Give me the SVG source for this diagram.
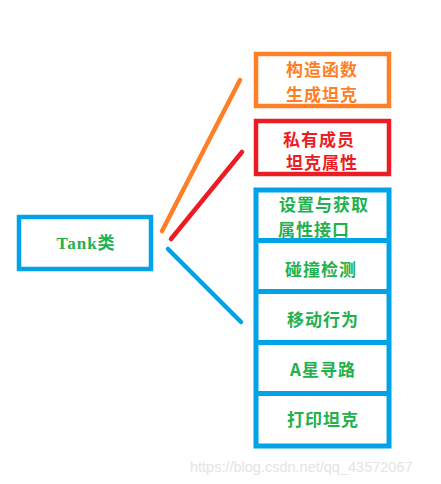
<svg xmlns="http://www.w3.org/2000/svg" width="441" height="484" viewBox="0 0 441 484">
<style>
.box{fill:#fff;stroke-width:4.5}
.b{stroke:#00a2e8}
.o{stroke:#ff7f27}
.r{stroke:#ed1c24}
.t{font-family:"Noto Sans CJK SC","Liberation Serif",sans-serif;font-size:17px;font-weight:bold;text-anchor:middle;dominant-baseline:central;letter-spacing:1px}
.g{fill:#22b14c}
.ln{stroke-width:4.5;stroke-linecap:round;fill:none}
</style>
<rect width="441" height="484" fill="#fff"/>
<g id="connectors">
<line class="ln o" x1="162" y1="231" x2="240" y2="80"/>
<line class="ln r" x1="171" y1="239" x2="242" y2="152"/>
<line class="ln b" x1="168" y1="249" x2="241" y2="322"/>
</g>
<g id="tank">
<rect class="box b" x="19" y="217" width="132" height="52"/>
<text x="86" y="243" class="g" style="font-family:'Liberation Serif','Noto Sans CJK SC',serif;font-size:17px;font-weight:bold;letter-spacing:1px;text-anchor:middle;dominant-baseline:central">Tank类</text>
</g>
<g id="ctor">
<rect class="box o" x="256" y="54" width="133" height="52"/>
<text class="t" fill="#ff7f27" x="322" y="68">构造函数</text>
<text class="t" fill="#ff7f27" x="322" y="93">生成坦克</text>
</g>
<g id="private">
<rect class="box r" x="256" y="121" width="133" height="53"/>
<text class="t" fill="#ed1c24" x="319" y="138">私有成员</text>
<text class="t" fill="#ed1c24" x="322" y="161">坦克属性</text>
</g>
<g id="methods">
<rect class="box b" x="256" y="190" width="133" height="256" style="stroke-width:5"/>
<line class="b" x1="256" y1="240.5" x2="389" y2="240.5" style="stroke-width:5"/>
<line class="b" x1="256" y1="291.5" x2="389" y2="291.5" style="stroke-width:5"/>
<line class="b" x1="256" y1="342.5" x2="389" y2="342.5" style="stroke-width:5"/>
<line class="b" x1="256" y1="393.5" x2="389" y2="393.5" style="stroke-width:5"/>
</g>
<g id="m1"><text class="t g" x="324" y="203">设置与获取</text><text class="t g" x="314" y="228">属性接口</text></g>
<g id="m2"><text class="t g" x="321" y="268">碰撞检测</text></g>
<g id="m3"><text class="t g" x="323" y="318">移动行为</text></g>
<g id="m4"><text class="t g" x="323" y="368">A星寻路</text></g>
<g id="m5"><text class="t g" x="323" y="418">打印坦克</text></g>
<text x="190" y="472" style="font-family:'Liberation Sans',Arial,sans-serif;font-size:14.5px;fill:#e4e4e4">https://blog.csdn.net/qq_43572067</text>
</svg>
